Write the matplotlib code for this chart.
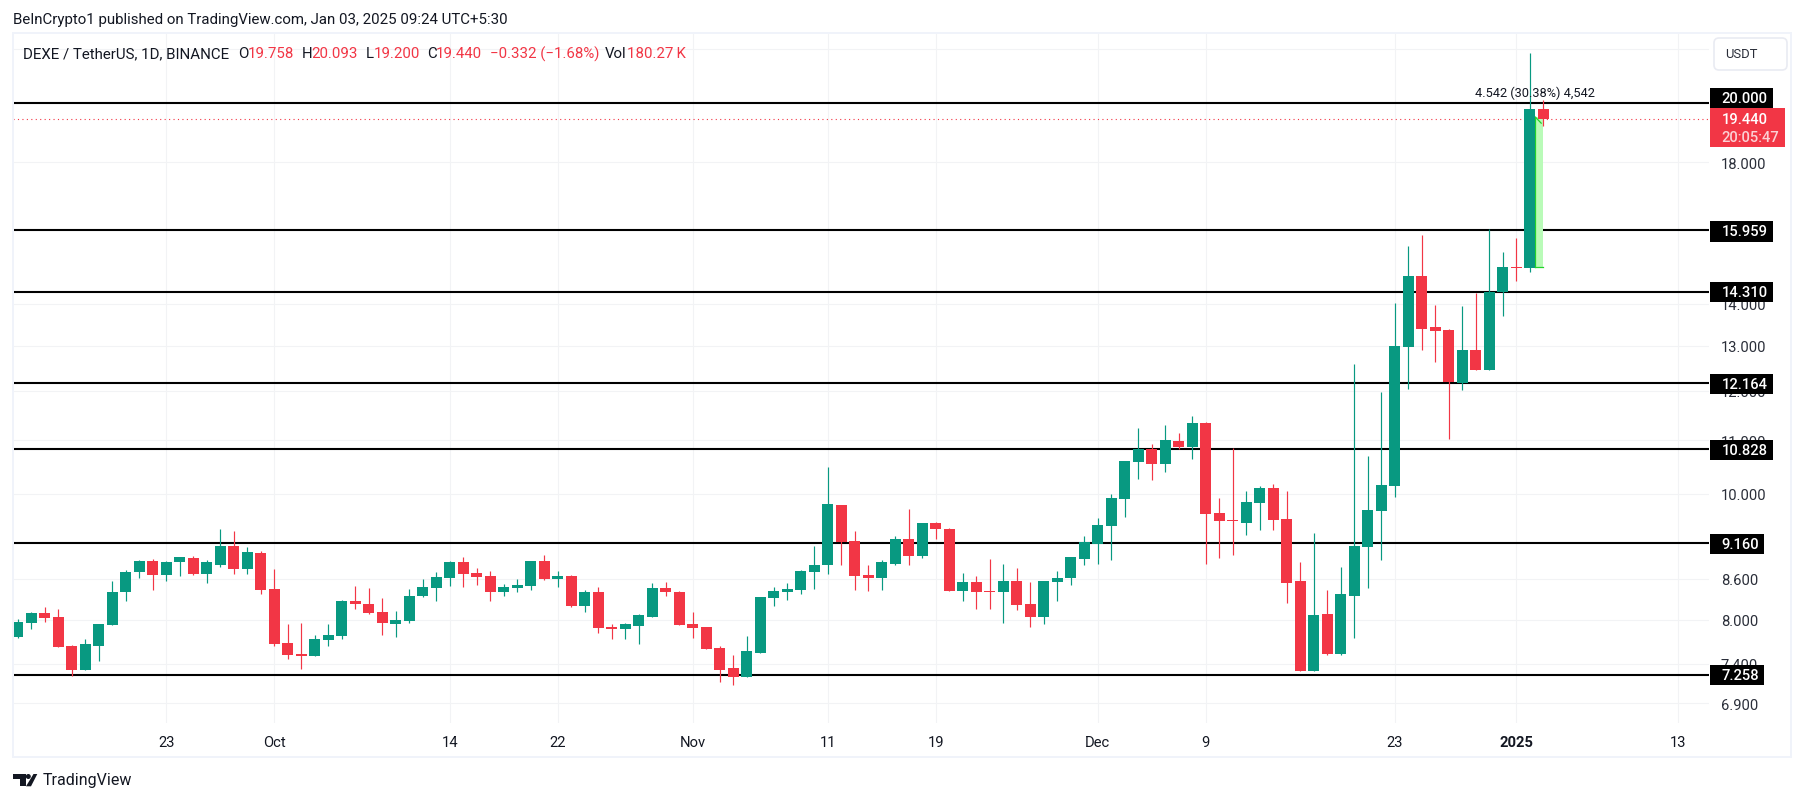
import numpy as np
import matplotlib
matplotlib.use("Agg")
import matplotlib.pyplot as plt
import matplotlib.dates as mdates
from matplotlib.patches import Rectangle, Polygon, Circle, FancyBboxPatch
from matplotlib.transforms import Affine2D

start_date = "2024-09-12"
opens = [7.767,7.961,8.101,8.045,7.641,7.325,7.641,7.920,8.397,8.714,
         8.886,8.667,8.855,8.933,8.683,8.823,9.121,8.761,9.011,8.456,
         7.683,7.536,7.509,7.725,7.780,8.278,8.234,8.116,7.947,7.989,
         8.338,8.471,8.620,8.855,8.698,8.652,8.397,8.471,8.500,8.886,
         8.605,8.652,8.204,8.411,7.892,7.864,7.906,8.045,8.471,8.411,
         7.934,7.892,7.614,7.352,7.233,7.549,8.308,8.411,8.441,8.714,
         8.808,9.811,9.204,8.667,8.620,8.839,9.237,8.964,9.503,9.404,
         8.426,8.559,8.426,8.411,8.574,8.234,8.045,8.559,8.620,8.917,
         9.154,9.453,9.917,10.589,10.832,10.552,10.988,10.870,11.345,9.670,
         9.553,9.503,9.846,10.111,9.570,8.574,7.312,8.087,7.536,8.352,
         9.105,9.705,10.146,12.974,14.716,13.448,13.377,12.175,12.908,12.461,
         14.308,14.956,14.929,19.758]
highs = [8.017,8.116,8.190,8.160,7.655,7.739,7.934,8.574,8.745,8.902,
         8.917,8.886,8.948,8.964,8.902,9.404,9.370,9.105,9.042,8.761,
         7.934,7.961,7.794,7.934,8.293,8.500,8.471,8.308,8.131,8.456,
         8.605,8.714,8.886,8.948,8.776,8.729,8.530,8.605,8.886,8.980,
         8.729,8.667,8.441,8.485,7.934,7.961,8.087,8.545,8.559,8.426,
         8.116,7.892,7.641,7.522,7.780,8.323,8.485,8.545,8.745,9.121,
         10.495,9.811,9.370,8.823,8.902,9.287,9.740,9.503,9.520,9.420,
         8.698,8.652,8.917,8.839,8.776,8.559,8.574,8.729,8.948,9.287,
         9.586,10.005,10.608,11.246,10.929,11.305,11.147,11.483,11.364,9.934,
         10.851,10.058,10.146,10.181,10.058,8.870,9.337,8.441,8.792,12.595,
         10.701,11.985,14.031,15.517,15.828,13.981,13.401,13.956,14.283,15.998,
         15.356,15.743,21.840,20.093]
lows = [7.753,7.864,7.975,7.628,7.247,7.325,7.431,7.920,8.278,8.620,
        8.441,8.574,8.652,8.667,8.545,8.792,8.683,8.683,8.367,7.641,
        7.457,7.339,7.509,7.641,7.739,8.160,8.087,7.794,7.767,7.961,
        8.323,8.264,8.500,8.485,8.515,8.278,8.338,8.397,8.441,8.589,
        8.485,8.190,8.116,7.822,7.739,7.739,7.669,8.045,8.352,7.920,
        7.753,7.601,7.169,7.133,7.233,7.549,8.204,8.293,8.367,8.456,
        8.683,8.808,8.441,8.426,8.441,8.823,8.823,8.933,9.237,8.426,
        8.264,8.160,8.160,7.961,8.145,7.892,7.934,8.278,8.515,8.808,
        8.839,8.902,9.603,10.270,10.252,10.402,10.832,10.645,8.839,8.933,
        8.980,9.304,9.387,9.387,8.249,7.312,7.312,7.522,7.522,7.753,
        8.471,8.902,9.952,12.048,12.908,12.640,11.028,12.027,12.461,12.461,
        13.709,14.584,14.822,19.200]
closes = [7.975,8.101,8.031,7.628,7.325,7.669,7.934,8.411,8.714,8.886,
          8.667,8.870,8.948,8.683,8.855,9.121,8.761,9.027,8.441,7.669,
          7.522,7.509,7.739,7.794,8.278,8.234,8.101,7.961,8.003,8.352,
          8.485,8.635,8.855,8.683,8.635,8.397,8.485,8.515,8.886,8.605,
          8.652,8.204,8.411,7.878,7.864,7.934,8.073,8.471,8.397,7.920,
          7.878,7.601,7.325,7.233,7.575,8.323,8.426,8.456,8.729,8.823,
          9.829,9.188,8.652,8.620,8.855,9.237,8.964,9.503,9.404,8.426,
          8.559,8.411,8.411,8.574,8.219,8.045,8.574,8.620,8.948,9.188,
          9.470,9.934,10.608,10.832,10.552,11.008,10.870,11.345,9.653,9.537,
          9.537,9.864,10.111,9.553,8.545,7.312,8.073,7.536,8.367,9.121,
          9.723,10.164,13.000,14.716,13.401,13.353,12.196,12.908,12.461,14.308,
          14.956,14.929,19.758,19.440]
level_values = [20.000,15.959,14.310,12.164,10.828,9.160,7.258]
level_labels = ["20.000","15.959","14.310","12.164","10.828","9.160","7.258"]
price_ticks = [6.9,7.4,8.0,8.6,10.0,11.0,12.0,13.0,14.0,18.0,20.0,22.0]
price_tick_labels = ["6.900","7.400","8.000","8.600","10.000","11.000","12.000","13.000","14.000","18.000","20.000",""]
date_ticks = ["2024-09-23","2024-10-01","2024-10-14","2024-10-22","2024-11-01","2024-11-11",
              "2024-11-19","2024-12-01","2024-12-09","2024-12-23","2025-01-01","2025-01-13"]
date_tick_labels = ["23","Oct","14","22","Nov","11","19","Dec","9","23","2025","13"]
last_price = 19.440
measure_low, measure_high = 14.95, 19.49

GREEN, RED = "#089981", "#F23645"
INK = "#131722"
GRID = "#f2f3f5"
FRAME = "#f0f3fa"
FONT = "Roboto"
plt.rcParams["font.family"] = FONT

W, H = 1804, 803
fig = plt.figure(figsize=(W/100, H/100), dpi=100, facecolor="white")
px = Affine2D().scale(1/W, -1/H).translate(0, 1) + fig.transFigure
L, R, T, B = 13, 1709, 34.8, 723.8
ax = fig.add_axes([L/W, 1-B/H, (R-L)/W, (B-T)/H])

d0 = mdates.date2num(np.datetime64(start_date))
x = d0 + np.arange(len(opens))
o, h, l, c = map(np.array, (opens, highs, lows, closes))
colors = [GREEN if cc >= oo else RED for oo, cc in zip(o, c)]

ax.set_yscale("log")
ax.set_xlim(d0-0.348, d0+125.28)
ax.set_ylim(6.666, 22.59)
ax.minorticks_off()
ax.set_axisbelow(True)
for s in ax.spines.values():
    s.set_visible(False)
ax.set_yticks(price_ticks, price_tick_labels)
ax.yaxis.set_minor_locator(matplotlib.ticker.NullLocator())
ax.yaxis.tick_right()
ax.tick_params(axis="y", length=0, pad=8.6, labelsize=10.6, labelcolor="#2a2e39")
tick_nums = [mdates.date2num(np.datetime64(t)) for t in date_ticks]
ax.set_xticks(tick_nums, date_tick_labels)
ax.tick_params(axis="x", length=0, pad=8.9, labelsize=10.6, labelcolor=INK)
for lab, t in zip(ax.get_xticklabels(), date_tick_labels):
    if t == "2025":
        lab.set_fontweight("bold")
ax.grid(True, color=GRID, lw=0.8)

for v in level_values:
    ax.axhline(v, color="black", lw=1.5, zorder=2)
ax.axhline(last_price, color=RED, lw=0.8, ls=(0, (1, 3)), zorder=2)

# measure tool
xm0 = d0 + 112.42
xm1 = d0 + 113.0
ax.fill_between([xm0, xm1], measure_low, measure_high, color="#b9fbb8", lw=0, zorder=2.5)
ax.plot([xm0, xm0], [measure_low, measure_high], color="#22d32a", lw=0.9, zorder=2.6)
ax.plot([xm0, xm1], [measure_low, measure_low], color="#22d32a", lw=0.9, zorder=2.6)
ax.plot([xm0, xm1-0.15], [19.49, 19.283], color="#22d32a", lw=0.9, zorder=2.6)

ax.vlines(x, l, h, colors=colors, lw=0.85, zorder=3)
ax.bar(x, np.maximum(np.abs(c-o), 1e-3), bottom=np.minimum(o, c), width=11/13.5,
       color=colors, lw=0, zorder=3.1)
ax.text(d0+112.4, 20.357, "4.542 (30.38%) 4,542", ha="center", va="center",
        fontsize=9.2, color=INK, zorder=4)

# frame
for (x0, y0, w, hh) in [(12, 33, 1780, 2), (12, 757, 1780, 2), (12, 33, 2, 726), (1790, 33, 2, 726)]:
    fig.add_artist(Rectangle((x0, y0), w, hh, transform=px, fc=FRAME, ec="none", zorder=1))

# price labels
def price_box(x0, x1, y0, y1, fc):
    fig.add_artist(Rectangle((x0, y0), x1-x0, y1-y0, transform=px, fc=fc, ec="none", zorder=5))

boxes_y = [99, 232.2, 293, 385, 451, 545, 676]
for lab, yy in zip(level_labels, boxes_y):
    x1 = 1772.5 if len(lab) == 6 else 1764
    price_box(1710, x1, yy-10.3, yy+10.3, "black")
    fig.text(1721.5, yy, lab, transform=px, color="white", fontsize=10.6, ha="left",
             va="center", zorder=6, fontweight="medium")
price_box(1710, 1785, 109.3, 147.7, RED)
fig.text(1721.5, 119.8, "19.440", transform=px, color="white", fontsize=10.6, va="center", zorder=6, fontweight="medium")
fig.text(1721.5, 138.2, "20:05:47", transform=px, color="#fbd0d4", fontsize=10.6, va="center", zorder=6, fontweight="medium")

# USDT button
fig.add_artist(FancyBboxPatch((1717, 42), 67, 26, boxstyle="round,pad=3,rounding_size=5",
                              transform=px, fc="white", ec="#e9ebf2", lw=1.2, zorder=2))
fig.text(1725.5, 54.5, "USDT", transform=px, color="#2a2e39", fontsize=9.4, va="center", zorder=6)

# header
fig.text(13, 20, "BeInCrypto1 published on TradingView.com, Jan 03, 2025 09:24 UTC+5:30",
         transform=px, color=INK, fontsize=10.85, va="center")
hdr = [(23, "DEXE / TetherUS, 1D, BINANCE", INK), (238.5, "O", INK), (248, "19.758", RED),
       (302, "H", INK), (311.5, "20.093", RED), (366, "L", INK), (374, "19.200", RED),
       (427, "C", INK), (436, "19.440", RED), (490, "\u22120.332 (\u22121.68%)", RED),
       (605, "Vol", INK), (627, "180.27\u2009K", RED)]
for xx, s, col in hdr:
    fs = 10.8 if s.startswith("DEXE") else 10.85
    fig.text(xx, 54, s, transform=px, color=col, fontsize=fs, va="center", zorder=6)

# footer logo
fig.add_artist(Polygon([(13, 775), (25.7, 775), (25.7, 787.3), (20, 787.3), (20, 780), (13, 780)],
                       transform=px, fc=INK, ec="none"))
fig.add_artist(Circle((28.3, 777.5), 2.5, transform=px, fc=INK, ec="none"))
fig.add_artist(Polygon([(33.5, 775), (37.3, 775), (31, 787.3), (26, 787.3)], transform=px, fc=INK, ec="none"))
fig.text(42.3, 781, "TradingView", transform=px, color=INK, fontsize=11.5, va="center")

fig.savefig("out.png", dpi=100, facecolor="white")
